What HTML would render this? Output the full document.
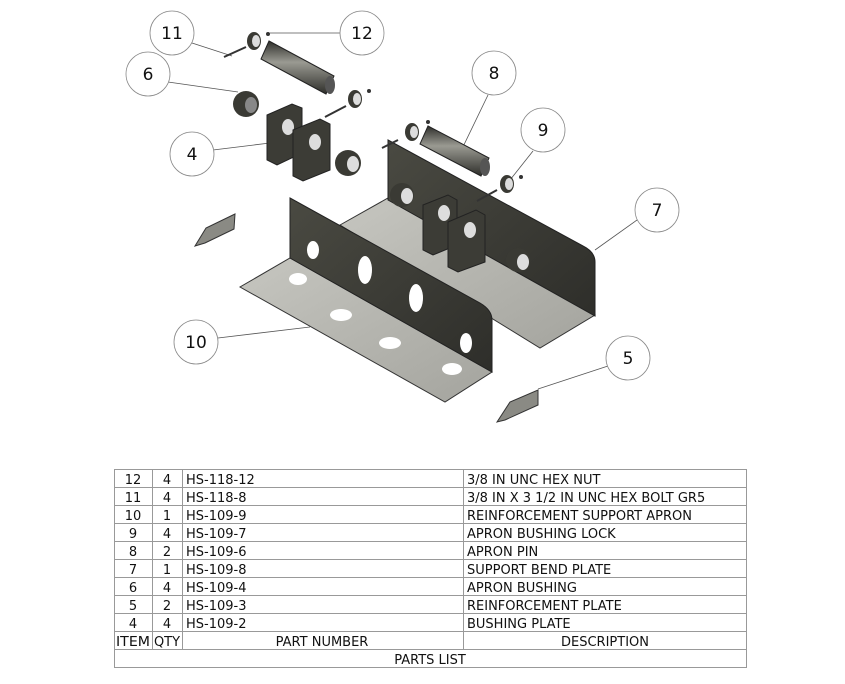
<!DOCTYPE html>
<html><head><meta charset="utf-8"><style>
html,body{margin:0;padding:0;background:#fff;width:845px;height:684px;overflow:hidden}
svg{display:block}
text{font-family:"DejaVu Sans","Liberation Sans",sans-serif}
</style></head><body>
<svg width="845" height="684" viewBox="0 0 845 684" xmlns="http://www.w3.org/2000/svg">
<defs>
<linearGradient id="dk" x1="0" y1="0" x2="1" y2="1"><stop offset="0" stop-color="#4a4a42"/><stop offset="1" stop-color="#2e2e2a"/></linearGradient>
<linearGradient id="lt" x1="0" y1="0" x2="1" y2="1"><stop offset="0" stop-color="#c6c6c0"/><stop offset="1" stop-color="#a4a49e"/></linearGradient>
<linearGradient id="cyl" x1="0" y1="0" x2="0" y2="1"><stop offset="0" stop-color="#2e2e2a"/><stop offset="0.4" stop-color="#9a9a92"/><stop offset="1" stop-color="#2e2e2a"/></linearGradient>
</defs>
<g stroke="#555" stroke-width="0.8" fill="none">
<line x1="192" y1="43" x2="232" y2="56"/>
<line x1="383" y1="33" x2="270" y2="33"/>
<line x1="168" y1="82" x2="238" y2="92"/>
<line x1="213" y1="150" x2="270" y2="143"/>
<line x1="488" y1="95" x2="460" y2="153"/>
<line x1="533" y1="151" x2="510" y2="180"/>
<line x1="637" y1="220" x2="595" y2="250"/>
<line x1="218" y1="338" x2="310" y2="327"/>
<line x1="608" y1="366" x2="538" y2="389"/>
</g>
<polygon points="340,225 388,198 595,315 540,348" fill="url(#lt)" stroke="#333" stroke-width="1"/>
<path d="M388,140 L583,246 Q595,252 595,262 L595,316 L388,200 Z" fill="url(#dk)" stroke="#222"/>
<ellipse cx="402" cy="195" rx="12" ry="12" fill="#3a3a34"/><ellipse cx="407" cy="196" rx="6" ry="8" fill="#ddd"/>
<ellipse cx="518" cy="260" rx="12" ry="12" fill="#3a3a34"/><ellipse cx="523" cy="262" rx="6" ry="8" fill="#ddd"/>
<path d="M423,205 L448,195 L457,200 L457,245 L433,255 L423,250 Z" fill="#3c3c36" stroke="#222"/>
<ellipse cx="444" cy="213" rx="6" ry="8" fill="#ddd"/>
<path d="M448,222 L476,210 L485,215 L485,262 L458,272 L448,267 Z" fill="#3c3c36" stroke="#222"/>
<ellipse cx="470" cy="230" rx="6" ry="8" fill="#ddd"/>
<polygon points="428,126 489,158 481,176 420,144" fill="url(#cyl)" stroke="#222"/>
<ellipse cx="485" cy="167" rx="5" ry="9" fill="#555"/>
<ellipse cx="412" cy="132" rx="7" ry="9" fill="#3a3a34"/><ellipse cx="414" cy="132" rx="4" ry="6" fill="#ddd"/>
<circle cx="428" cy="122" r="2" fill="#333"/>
<line x1="382" y1="148" x2="398" y2="140" stroke="#333" stroke-width="2"/>
<ellipse cx="507" cy="184" rx="7" ry="9" fill="#3a3a34"/><ellipse cx="509" cy="184" rx="4" ry="6" fill="#ddd"/>
<circle cx="521" cy="177" r="2" fill="#333"/>
<line x1="477" y1="201" x2="497" y2="190" stroke="#333" stroke-width="2"/>
<polygon points="290,258 492,372 445,402 240,287" fill="url(#lt)" stroke="#333" stroke-width="1"/>
<path d="M290,198 L480,303 Q492,310 492,320 L492,372 L290,258 Z" fill="url(#dk)" stroke="#222"/>
<ellipse cx="313" cy="250" rx="6" ry="9" fill="#fff"/>
<ellipse cx="365" cy="270" rx="7" ry="14" fill="#fff"/>
<ellipse cx="416" cy="298" rx="7" ry="14" fill="#fff"/>
<ellipse cx="466" cy="343" rx="6" ry="10" fill="#fff"/>
<ellipse cx="298" cy="279" rx="9" ry="6" fill="#fff"/>
<ellipse cx="341" cy="315" rx="11" ry="6" fill="#fff"/>
<ellipse cx="390" cy="343" rx="11" ry="6" fill="#fff"/>
<ellipse cx="452" cy="369" rx="10" ry="6" fill="#fff"/>
<polygon points="195,246 206,228 235,214 234,229 205,243" fill="#8a8a84" stroke="#333"/>
<polygon points="497,422 510,402 538,390 538,405 505,420" fill="#8a8a84" stroke="#333"/>
<polygon points="269,41 334,76 326,94 261,59" fill="url(#cyl)" stroke="#222"/>
<ellipse cx="330" cy="85" rx="5" ry="9" fill="#555"/>
<ellipse cx="254" cy="41" rx="7" ry="9" fill="#3a3a34"/><ellipse cx="256" cy="41" rx="4" ry="6" fill="#ddd"/>
<circle cx="268" cy="34" r="2" fill="#333"/>
<line x1="224" y1="57" x2="246" y2="47" stroke="#333" stroke-width="2"/>
<ellipse cx="246" cy="104" rx="13" ry="13" fill="#3a3a34"/><ellipse cx="251" cy="105" rx="6" ry="8" fill="#888"/>
<path d="M267,115 L292,104 L302,108 L302,153 L277,165 L267,160 Z" fill="#3c3c36" stroke="#222"/>
<ellipse cx="288" cy="127" rx="6" ry="8" fill="#ddd"/>
<path d="M293,130 L320,119 L330,124 L330,170 L303,181 L293,176 Z" fill="#3c3c36" stroke="#222"/>
<ellipse cx="315" cy="142" rx="6" ry="8" fill="#ddd"/>
<ellipse cx="348" cy="163" rx="13" ry="13" fill="#3a3a34"/><ellipse cx="353" cy="164" rx="6" ry="8" fill="#ddd"/>
<ellipse cx="355" cy="99" rx="7" ry="9" fill="#3a3a34"/><ellipse cx="357" cy="99" rx="4" ry="6" fill="#ddd"/>
<circle cx="369" cy="91" r="2" fill="#333"/>
<line x1="325" y1="117" x2="346" y2="106" stroke="#333" stroke-width="2"/>
<g fill="#fff" stroke="#888" stroke-width="0.8">
<circle cx="172" cy="33" r="22"/><circle cx="362" cy="33" r="22"/><circle cx="148" cy="74" r="22"/>
<circle cx="494" cy="73" r="22"/><circle cx="543" cy="130" r="22"/><circle cx="192" cy="154" r="22"/>
<circle cx="657" cy="210" r="22"/><circle cx="196" cy="342" r="22"/><circle cx="628" cy="358" r="22"/>
</g>
<g font-size="17" text-anchor="middle" fill="#111">
<text x="172" y="39">11</text><text x="362" y="39">12</text><text x="148" y="80">6</text>
<text x="494" y="79">8</text><text x="543" y="136">9</text><text x="192" y="160">4</text>
<text x="657" y="216">7</text><text x="196" y="348">10</text><text x="628" y="364">5</text>
</g>
<g stroke="#999" stroke-width="1" fill="none">
<rect x="114.5" y="469.5" width="632" height="198"/>
<line x1="114" y1="487.5" x2="746" y2="487.5"/><line x1="114" y1="505.5" x2="746" y2="505.5"/>
<line x1="114" y1="523.5" x2="746" y2="523.5"/><line x1="114" y1="541.5" x2="746" y2="541.5"/>
<line x1="114" y1="559.5" x2="746" y2="559.5"/><line x1="114" y1="577.5" x2="746" y2="577.5"/>
<line x1="114" y1="595.5" x2="746" y2="595.5"/><line x1="114" y1="613.5" x2="746" y2="613.5"/>
<line x1="114" y1="631.5" x2="746" y2="631.5"/><line x1="114" y1="649.5" x2="746" y2="649.5"/>
<line x1="152.5" y1="469" x2="152.5" y2="649"/><line x1="182.5" y1="469" x2="182.5" y2="649"/>
<line x1="463.5" y1="469" x2="463.5" y2="649"/>
</g>
<g font-size="13" fill="#111">
<g text-anchor="middle">
<text x="133" y="484">12</text><text x="167" y="484">4</text>
<text x="133" y="502">11</text><text x="167" y="502">4</text>
<text x="133" y="520">10</text><text x="167" y="520">1</text>
<text x="133" y="538">9</text><text x="167" y="538">4</text>
<text x="133" y="556">8</text><text x="167" y="556">2</text>
<text x="133" y="574">7</text><text x="167" y="574">1</text>
<text x="133" y="592">6</text><text x="167" y="592">4</text>
<text x="133" y="610">5</text><text x="167" y="610">2</text>
<text x="133" y="628">4</text><text x="167" y="628">4</text>
<text x="133" y="646" textLength="34" lengthAdjust="spacingAndGlyphs">ITEM</text><text x="167" y="646" textLength="26" lengthAdjust="spacingAndGlyphs">QTY</text>
<text x="322" y="646">PART NUMBER</text><text x="605" y="646">DESCRIPTION</text>
<text x="430" y="664">PARTS LIST</text>
</g>
<text x="186" y="484">HS-118-12</text><text x="467" y="484">3/8 IN UNC HEX NUT</text>
<text x="186" y="502">HS-118-8</text><text x="467" y="502">3/8 IN X 3 1/2 IN UNC HEX BOLT GR5</text>
<text x="186" y="520">HS-109-9</text><text x="467" y="520">REINFORCEMENT SUPPORT APRON</text>
<text x="186" y="538">HS-109-7</text><text x="467" y="538">APRON BUSHING LOCK</text>
<text x="186" y="556">HS-109-6</text><text x="467" y="556">APRON PIN</text>
<text x="186" y="574">HS-109-8</text><text x="467" y="574">SUPPORT BEND PLATE</text>
<text x="186" y="592">HS-109-4</text><text x="467" y="592">APRON BUSHING</text>
<text x="186" y="610">HS-109-3</text><text x="467" y="610">REINFORCEMENT PLATE</text>
<text x="186" y="628">HS-109-2</text><text x="467" y="628">BUSHING PLATE</text>
</g>
</svg>
</body></html>
